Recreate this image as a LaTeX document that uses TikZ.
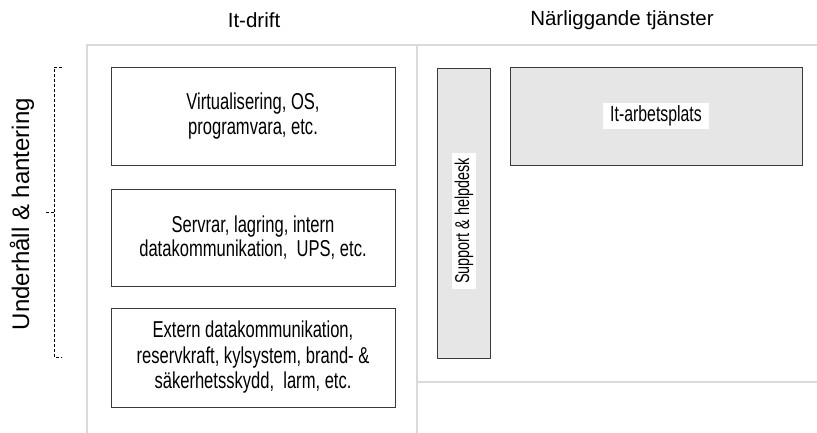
\documentclass[tikz,border=0pt]{standalone}
\usepackage{fontspec}
\setmainfont{Liberation Sans}
\newfontfamily\narrowfont[FakeStretch=0.72]{Liberation Sans}
\definecolor{gridgray}{HTML}{DADADA}
\definecolor{boxgray}{HTML}{3A3A3A}
\definecolor{fillgray}{HTML}{E6E6E6}

\begin{document}
\begin{tikzpicture}[x=1pt,y=-1pt,
	gridline/.style={draw=gridgray,line width=1.3pt},
	itbox/.style={draw=boxgray,line width=0.9pt,minimum width=284pt,inner sep=0pt,align=center,font=\narrowfont\fontsize{23}{24.5}\selectfont},
	svcbox/.style={draw=boxgray,line width=0.9pt,fill=fillgray,inner sep=0pt},
	whitelabel/.style={fill=white,inner xsep=5pt,inner ysep=3pt,font=\narrowfont\fontsize{22}{24}\selectfont},
	heading/.style={font=\fontsize{20.5}{24}\selectfont}]
\useasboundingbox (0,0) rectangle (817,433);
\draw[gridline] (87,433) -- (87,45) -- (817,45);
\draw[gridline] (417,45) -- (417,433);
\draw[gridline] (417,382) -- (817,382);

\node[heading] (itdrift) at (254,20) {It-drift};
\node[heading] (narlig) at (622,20) {Närliggande tjänster};

\node[itbox,minimum height=98pt] (virt) at (253,116) {Virtualisering, OS,\\programvara, etc.};
\node[itbox,minimum height=97pt] (serv) at (253,237.5) {Servrar, lagring, intern\\datakommunikation,~ UPS, etc.};
\node[itbox,minimum height=99pt,font=\narrowfont\fontsize{23}{25.5}\selectfont] (extern) at (253,357.5) {Extern datakommunikation,\\reservkraft, kylsystem, brand- \&\\säkerhetsskydd,~ larm, etc.};

\node[svcbox,minimum width=53pt,minimum height=290pt] (support) at (463.5,213) {};
\node[whitelabel,rotate=90,font=\narrowfont\fontsize{20}{24}\selectfont] (supporttxt) at (464,221) {Support \& helpdesk};
\node[svcbox,minimum width=292pt,minimum height=98pt] (arbplats) at (656,116) {};
\node[whitelabel,inner xsep=7pt] (arbtxt) at (arbplats) {It-arbetsplats};

\draw[dash pattern=on 3pt off 2pt,line width=0.6pt] (62,67) -- (54,67) -- (54,357) -- (62,357);
\draw[dash pattern=on 3pt off 2pt,line width=0.6pt] (54,212) -- (46,212);
\node[rotate=90,font=\fontsize{24}{28}\selectfont] (underhall) at (22,214) {Underhåll \& hantering};
\end{tikzpicture}
\end{document}
